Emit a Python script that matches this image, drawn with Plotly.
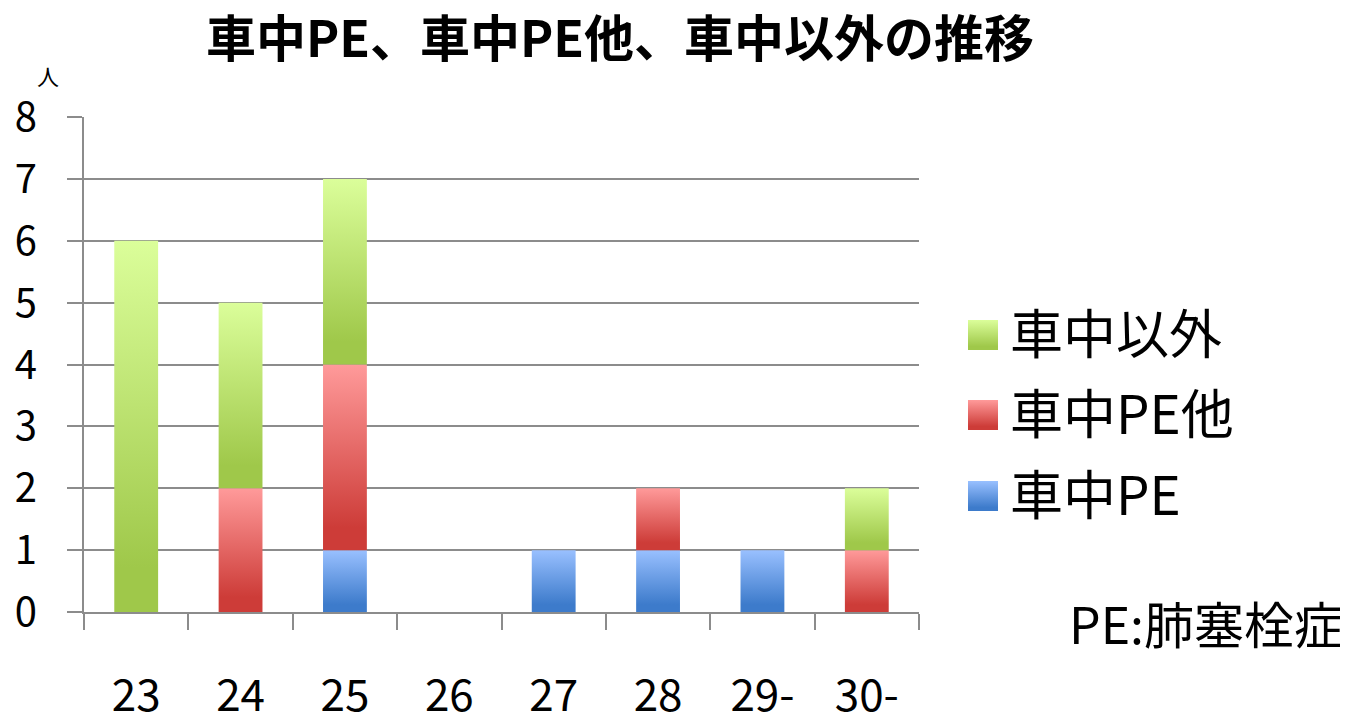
import plotly.graph_objects as go

# ---- data ----
categories = ["23", "24", "25", "26", "27", "28", "29-", "30-"]
series_names = ["車中PE", "車中PE他", "車中以外"]
car_pe = [0, 0, 1, 0, 1, 1, 1, 0]
car_pe_other = [0, 2, 3, 0, 0, 1, 0, 1]
non_car = [6, 3, 3, 0, 0, 0, 0, 1]
series_values = [car_pe, car_pe_other, non_car]

# ---- styles ----
FONT = "Noto Sans CJK JP"
GRID = "#8c8c8c"
gradients = {
    "車中PE": ("#3d7bcb", "#99c0ff"),
    "車中PE他": ("#cd3c38", "#ff9a9a"),
    "車中以外": ("#9fc84a", "#dbfe9a"),
}
OFF = 8  # default page body margin
W, H = 1348 - OFF, 715 - OFF
# plot area (figure pixels)
L, R_PX, T, B_PX = 84 - OFF, 919 - OFF, 117 - OFF, 612 - OFF
MR = 0
plot_w = W - L - MR
plot_h = B_PX - T
HALF = 0.21


def cscale(name):
    dark, light = gradients[name]
    return [[0, dark], [0.12, dark], [1, light]]


def px(xp):
    return (xp - OFF - L) / plot_w


def py(yp):
    return (B_PX - (yp - OFF)) / plot_h


fig = go.Figure()

# stacked bars as gradient-filled polygons
for i, cat in enumerate(categories):
    base = 0
    c = i + 0.5
    for name, vals in zip(series_names, series_values):
        v = vals[i]
        if v <= 0:
            continue
        top = base + v
        fig.add_trace(go.Scatter(
            x=[c - HALF, c + HALF, c + HALF, c - HALF, c - HALF],
            y=[base, base, top, top, base],
            fill="toself", mode="lines", line=dict(width=0),
            fillgradient=dict(type="vertical", colorscale=cscale(name),
                              start=base, stop=top),
            name=name, showlegend=False, hoverinfo="skip",
            xaxis="x", yaxis="y",
        ))
        base = top

# custom legend (helper axes in page-pixel units)
legend_order = ["車中以外", "車中PE他", "車中PE"]
legend_y = [335, 415, 496]
for name, yc in zip(legend_order, legend_y):
    fig.add_trace(go.Scatter(
        x=[968, 998, 998, 968, 968],
        y=[yc - 15, yc - 15, yc + 15, yc + 15, yc - 15],
        fill="toself", mode="lines", line=dict(width=0),
        fillgradient=dict(type="vertical",
                          colorscale=[[0, gradients[name][1]], [0.88, gradients[name][0]], [1, gradients[name][0]]],
                          start=yc - 15, stop=yc + 15),
        showlegend=False, hoverinfo="skip", xaxis="x2", yaxis="y2",
    ))
    fig.add_annotation(x=1008, y=yc - 4, xref="x2", yref="y2", text=name,
                       showarrow=False, xanchor="left", yanchor="middle",
                       font=dict(family=FONT, size=53, color="black"))

xdom = (R_PX - L) / plot_w
fig.update_layout(
    template="none",
    width=W, height=H,
    margin=dict(l=L, r=MR, t=T, b=H - B_PX, autoexpand=False),
    paper_bgcolor="white", plot_bgcolor="white",
    showlegend=False,
    title=dict(text="<b>車中PE、車中PE他、車中以外の推移</b>",
               x=(620 - OFF) / W, xref="container", xanchor="center",
               y=1 - (39 - OFF) / H, yref="container", yanchor="middle",
               font=dict(family=FONT, size=50, color="black")),
    xaxis=dict(domain=[0, xdom], range=[0, len(categories)],
               tickvals=[i + 0.5 for i in range(len(categories))],
               ticktext=categories, ticks="", showgrid=False,
               showline=True, linecolor=GRID, linewidth=2,
               zeroline=False, ticklabelstandoff=44, automargin=False,
               tickfont=dict(family=FONT, size=44, color="black"),
               minor=dict(tickvals=list(range(len(categories) + 1)),
                          ticks="outside", ticklen=16, tickcolor=GRID,
                          tickwidth=2, showgrid=False),
               fixedrange=True),
    yaxis=dict(range=[0, 8], dtick=1, showgrid=True, gridcolor=GRID,
               gridwidth=2, showline=True, linecolor=GRID, linewidth=2,
               ticks="outside", ticklen=15, tickcolor=GRID, tickwidth=2,
               zeroline=False, ticklabelstandoff=22, automargin=False,
               tickfont=dict(family=FONT, size=40, color="black"),
               fixedrange=True),
    xaxis2=dict(domain=[px(960), 1], range=[960, W + OFF], visible=False,
                automargin=False, fixedrange=True),
    yaxis2=dict(domain=[0, 1], range=[B_PX + OFF, T + OFF], visible=False,
                anchor="x2", automargin=False, fixedrange=True),
)

fig.add_annotation(x=px(48), y=py(75), xref="paper", yref="paper",
                   text="人", showarrow=False, xanchor="center",
                   yanchor="middle",
                   font=dict(family=FONT, size=22, color="black"))
fig.add_annotation(x=px(1346), y=py(622), xref="paper", yref="paper",
                   text="PE:肺塞栓症", showarrow=False, xanchor="right",
                   yanchor="middle",
                   font=dict(family=FONT, size=50, color="black"))

fig.write_html("out.html")
